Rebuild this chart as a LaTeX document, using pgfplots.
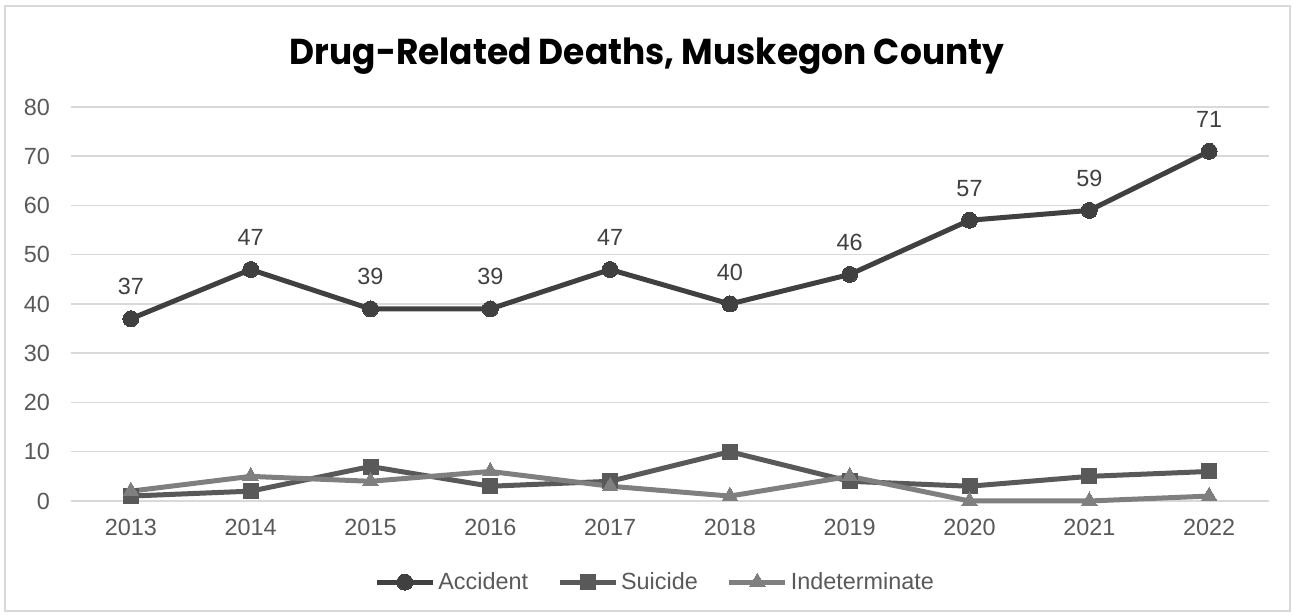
\documentclass[border=0pt]{standalone}
\usepackage{fontspec}
\setmainfont{Liberation Sans}
\newfontfamily\titlefont{Poppins}
\usepackage{pgfplots}
\pgfplotsset{compat=1.18}
\definecolor{cA}{HTML}{404040}
\definecolor{cS}{HTML}{595959}
\definecolor{cI}{HTML}{7F7F7F}
\definecolor{gridc}{HTML}{D9D9D9}
\definecolor{txt}{HTML}{595959}
\begin{document}
\begin{tikzpicture}
\useasboundingbox (-35.5pt,-57pt) rectangle (611.5pt,250.5pt);
\draw[gridc, line width=0.75pt] (-33pt,-55pt) rectangle (609.5pt,247.5pt);
\begin{axis}[
  at={(0pt,0pt)}, anchor=south west,
  width=599pt, height=197pt, scale only axis,
  xmin=-0.5, xmax=9.5, ymin=0, ymax=80,
  xtick={0,...,9}, xticklabels={2013,2014,2015,2016,2017,2018,2019,2020,2021,2022},
  ytick={0,10,...,80},
  axis line style={draw=none}, major tick length=0pt,
  ymajorgrids, grid style={gridc, line width=0.75pt},
  tick label style={font=\fontsize{11.7}{14}\selectfont, text=txt},
  xticklabel style={yshift=-5.5pt},
  yticklabel style={xshift=-7pt},
  /pgf/number format/assume math mode=true,
  clip=false,
  legend style={at={(0.488,-0.206)}, anchor=center, draw=none, fill=none,
    legend columns=-1, font=\fontsize{11.7}{14}\selectfont, text=txt,
    /tikz/every even column/.append style={column sep=13pt},
    nodes={inner sep=1.5pt}},
  legend image code/.code={\draw[mark repeat=2,mark phase=2] plot coordinates {(0pt,0pt)(14pt,0pt)(28pt,0pt)};},
]
\addplot[cA, line width=2.5pt, line join=round, mark=*, mark size=4pt, mark options={solid, fill=cA, draw=cA, line width=0pt},
  nodes near coords, every node near coord/.append style={font=\fontsize{11.7}{14}\selectfont, text=cA, anchor=center, yshift=16pt}]
  coordinates {(0,37)(1,47)(2,39)(3,39)(4,47)(5,40)(6,46)(7,57)(8,59)(9,71)};
\addlegendentry{Accident}
\addplot[cS, line width=2.5pt, line join=round, mark=square*, mark size=3.75pt, mark options={solid, fill=cS, draw=cS, line width=0pt}]
  coordinates {(0,1)(1,2)(2,7)(3,3)(4,4)(5,10)(6,4)(7,3)(8,5)(9,6)};
\addlegendentry{Suicide}
\addplot[cI, line width=2.5pt, line join=round, mark=triangle*, mark size=4.5pt, mark options={solid, fill=cI, draw=cI, line width=0pt}]
  coordinates {(0,2)(1,5)(2,4)(3,6)(4,3)(5,1)(6,5)(7,0)(8,0)(9,1)};
\addlegendentry{Indeterminate}
\end{axis}
\node[font=\titlefont\bfseries\fontsize{18}{22}\selectfont, text=black] at (288pt,222.5pt) {\scalebox{0.955}[1]{Drug-Related Deaths, Muskegon County}};
\end{tikzpicture}
\end{document}
